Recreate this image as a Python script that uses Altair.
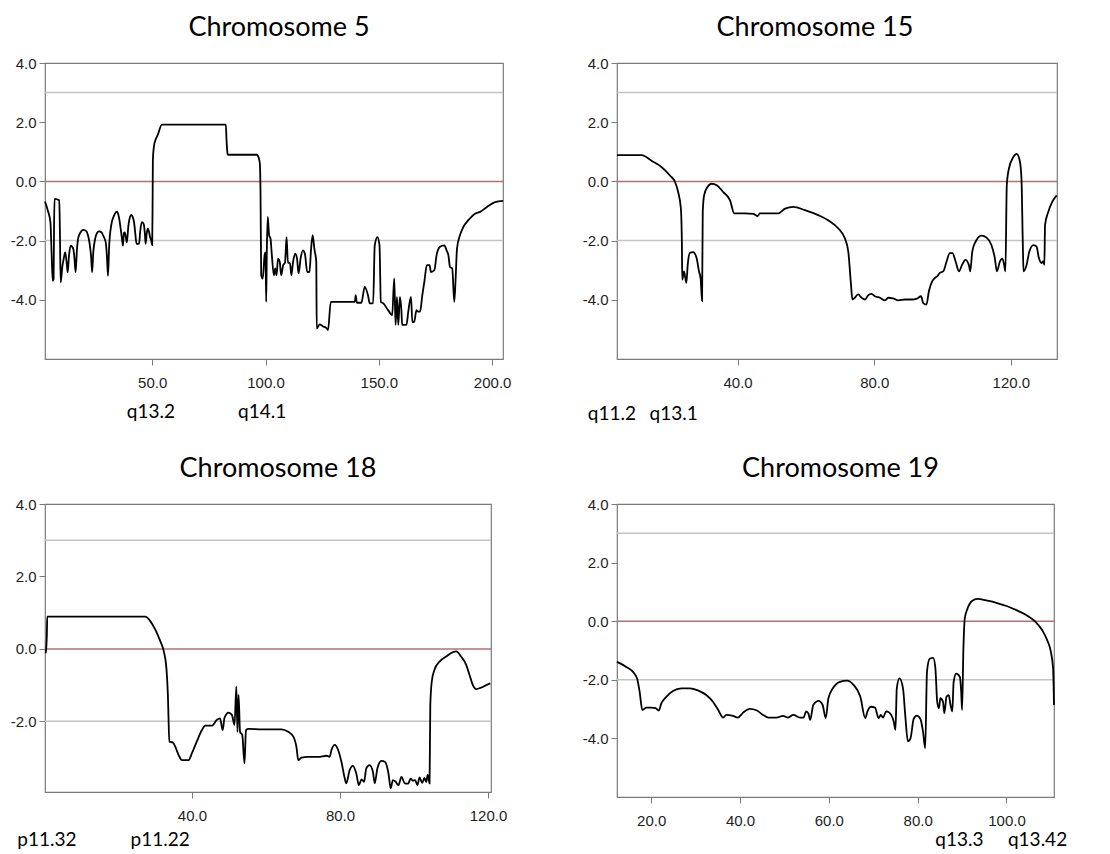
import altair as alt
import pandas as pd

# ---------------- data ----------------
chr5_pos = [2.7, 4.0, 5.1, 5.6, 6.1, 6.5, 6.7, 6.9, 9.0, 9.3, 9.6, 10.4, 11.0, 11.6, 12.2, 12.7, 13.3, 14.0, 14.6, 15.2,
            15.7, 16.2, 16.8, 17.4, 18.4, 19.5, 20.6, 21.6, 22.4, 23.0, 23.5, 24.0, 24.8, 25.6, 26.6, 27.6, 28.5, 29.5,
            30.0, 30.5, 31.0, 31.9, 33.2, 34.5, 35.3, 35.9, 36.6, 37.1, 37.5, 37.9, 38.4, 38.8, 39.5, 40.2, 40.8, 41.4,
            42.0, 42.6, 43.1, 44.2, 44.7, 45.4, 46.0, 46.4, 46.8, 47.1, 47.6, 48.1, 48.6, 49.1, 49.6, 50.0, 50.2, 50.3,
            50.8, 51.4, 52.4, 54.3, 82.5, 82.8, 83.3, 83.5, 96.1, 97.0, 97.5, 97.8, 98.1, 98.8, 99.6, 100.0, 100.3,
            100.6, 101.0, 101.6, 102.2, 102.8, 103.7, 104.3, 104.9, 105.5, 106.3, 106.9, 107.8, 108.6, 109.3, 109.9,
            110.8, 111.4, 112.2, 113.1, 113.9, 114.6, 115.5, 116.5, 117.4, 118.4, 119.4, 120.1, 120.8, 121.6, 122.4,
            122.6, 123.9, 125.4, 126.8, 127.6, 128.8, 139.4, 139.8, 140.3, 142.3, 143.8, 145.2, 146.0, 147.5, 148.2,
            149.4, 150.3, 150.9, 152.0, 154.1, 155.9, 156.8, 157.4, 158.0, 158.6, 159.3, 160.0, 160.3, 162.2, 163.0,
            164.2, 164.8, 165.6, 166.6, 167.3, 168.2, 169.2, 170.1, 171.2, 172.4, 173.0, 174.5, 175.5, 177.0, 178.9,
            180.0, 180.7, 181.4, 182.4, 183.3, 183.9, 184.5, 185.8, 187.3, 189.5, 192.5, 194.7, 197.6, 201.3, 204.8]
chr5_score = [-0.68, -1.0, -1.38, -2.4, -3.36, -3.30, -1.5, -0.59, -0.64, -1.8, -3.41, -2.85, -2.6, -2.40, -2.7, -3.07,
              -2.5, -2.17, -2.2, -2.28, -2.6, -3.07, -2.3, -1.9, -1.72, -1.64, -1.66, -1.8, -2.1, -2.5, -3.07, -2.4,
              -1.95, -1.75, -1.69, -1.72, -1.85, -2.06, -2.5, -3.19, -2.2, -1.49, -1.15, -1.02, -1.2, -1.49, -1.9,
              -2.17, -1.75, -1.72, -1.9, -2.06, -1.5, -1.2, -1.13, -1.2, -1.38, -1.8, -2.11, -2.11, -1.7, -1.38, -1.4,
              -1.49, -1.8, -2.11, -1.75, -1.60, -1.7, -1.89, -2.0, -2.15, -0.5, 0.71, 1.2, 1.39, 1.56, 1.92, 1.92, 1.4,
              0.92, 0.90, 0.90, 0.8, 0.6, -0.36, -3.17, -3.28, -2.49, -2.4, -4.07, -2.27, -1.20, -1.82, -1.93, -2.49,
              -3.17, -2.94, -3.17, -2.61, -2.72, -3.17, -2.83, -2.75, -1.88, -2.75, -2.75, -3.17, -2.7, -2.44, -2.6,
              -3.11, -2.6, -2.33, -2.45, -3.06, -3.06, -2.3, -1.82, -2.3, -2.72, -4.97, -4.83, -4.9, -4.95, -5.02,
              -4.07, -4.07, -3.84, -4.1, -4.1, -3.56, -3.84, -4.12, -4.12, -2.16, -1.88, -2.16, -4.07, -4.12, -4.35,
              -4.52, -3.28, -4.85, -3.9, -4.85, -3.9, -4.4, -4.85, -4.85, -4.4, -3.9, -4.75, -4.75, -4.35, -4.4, -4.4,
              -3.84, -3.39, -2.83, -2.83, -3.06, -3.0, -2.49, -2.21, -2.16, -2.35, -2.49, -2.89, -2.94, -4.07, -3.28,
              -2.27, -1.82, -1.54, -1.31, -1.09, -1.03, -0.87, -0.70, -0.66]

chr15_pos = [4.7, 11.9, 14.8, 17.8, 20.2, 21.7, 22.6, 23.4, 23.7, 23.8, 24.3, 24.6, 25.0, 25.4, 26.0, 27.0, 28.0, 28.7,
             29.2, 29.6, 29.8, 30.2, 31.2, 32.4, 33.9, 35.8, 37.8, 39.0, 42.1, 44.6, 45.9, 46.5, 51.9, 53.9, 56.3,
             59.7, 63.6, 66.5, 69.5, 71.4, 72.4, 73.2, 73.6, 74.3, 75.3, 76.3, 77.3, 78.2, 79.2, 80.2, 81.7, 83.1,
             84.1, 85.5, 87.0, 89.0, 91.0, 92.5, 93.7, 94.3, 95.3, 96.0, 97.0, 97.8, 98.5, 99.2, 100.2, 101.2, 102.1,
             102.9, 103.8, 104.8, 105.7, 106.7, 107.7, 108.1, 108.7, 109.7, 111.4, 112.9, 114.3, 115.3, 115.9, 116.8,
             117.5, 118.0, 118.4, 118.8, 119.4, 120.7, 121.7, 122.6, 123.1, 123.5, 123.7, 124.6, 125.4, 126.6, 127.5,
             128.2, 129.0, 129.4, 129.8, 130.0, 130.8, 132.1, 133.4]
chr15_score = [0.89, 0.89, 0.70, 0.48, 0.20, -0.02, -0.36, -0.92, -2.15, -3.32, -3.04, -3.2, -3.43, -2.82, -2.42, -2.39,
               -2.59, -3.04, -3.3, -4.04, -1.03, -0.47, -0.19, -0.08, -0.13, -0.36, -0.64, -1.08, -1.08, -1.10, -1.17,
               -1.08, -1.08, -0.92, -0.86, -0.97, -1.14, -1.31, -1.59, -1.92, -2.37, -3.49, -3.99, -3.93, -3.82, -3.93,
               -3.99, -3.85, -3.80, -3.88, -3.93, -4.02, -3.93, -3.95, -4.02, -3.99, -3.99, -3.96, -3.88, -4.10, -4.16,
               -3.71, -3.37, -3.26, -3.2, -3.09, -3.04, -2.70, -2.42, -2.42, -2.7, -3.04, -2.82, -2.65, -2.82, -3.04,
               -2.37, -2.03, -1.83, -1.90, -2.15, -2.59, -3.04, -2.70, -2.61, -2.8, -3.04, -0.13, 0.42, 0.82, 0.93,
               0.70, 0.09, -2.15, -3.04, -2.82, -2.37, -2.15, -2.20, -2.59, -2.76, -2.7, -2.82, -1.47, -1.08, -0.69,
               -0.47]

chr18_pos = [0.5, 0.8, 0.9, 27.4, 28.8, 30.1, 31.5, 32.4, 33.1, 33.5, 33.9, 34.8, 35.5, 36.4, 37.3, 39.1, 40.0, 41.3,
             42.7, 43.6, 45.4, 46.7, 47.6, 48.3, 48.8, 49.9, 50.8, 51.5, 52.0, 52.3, 52.6, 53.0, 53.6, 54.2, 54.6,
             55.3, 58.9, 64.2, 66.0, 67.4, 68.3, 68.7, 69.6, 71.4, 74.1, 76.4, 77.2, 77.7, 78.6, 79.5, 80.4, 81.3,
             81.7, 82.6, 83.5, 84.4, 85.1, 85.8, 86.5, 87.1, 88.0, 88.9, 89.4, 90.1, 91.2, 92.2, 93.1, 93.7, 94.3,
             95.0, 95.8, 96.6, 97.5, 98.4, 99.1, 99.7, 100.3, 100.9, 101.5, 102.2, 102.8, 103.3, 103.7, 104.2, 104.4,
             104.8, 105.5, 106.9, 108.7, 110.5, 111.4, 112.7, 114.1, 115.0, 115.9, 116.8, 118.1, 119.5, 120.6]
chr18_score = [-0.12, 0.39, 0.89, 0.89, 0.76, 0.53, 0.20, -0.07, -0.53, -1.27, -2.56, -2.58, -2.70, -2.93, -3.07, -3.07,
               -2.88, -2.56, -2.24, -2.12, -2.12, -1.96, -1.92, -2.24, -1.9, -1.76, -1.82, -2.10, -1.04, -2.29, -1.27,
               -2.29, -2.38, -3.16, -2.24, -2.21, -2.22, -2.22, -2.29, -2.42, -2.75, -3.07, -3.00, -2.98, -2.98, -2.95,
               -2.98, -2.79, -2.65, -2.79, -3.12, -3.58, -3.71, -3.35, -3.23, -3.44, -3.76, -3.60, -3.67, -3.30, -3.21,
               -3.40, -3.71, -3.30, -3.09, -3.12, -3.44, -3.85, -3.62, -3.66, -3.76, -3.53, -3.71, -3.72, -3.58, -3.64,
               -3.62, -3.76, -3.55, -3.70, -3.56, -3.67, -3.48, -3.71, -1.55, -0.90, -0.58, -0.35, -0.21, -0.09, -0.07,
               -0.21, -0.44, -0.72, -1.00, -1.11, -1.07, -1.00, -0.95]

chr19_pos = [12.3, 14.4, 15.9, 16.8, 17.4, 18.0, 18.9, 20.0, 21.0, 21.7, 22.3, 23.4, 24.9, 26.8, 28.7, 30.5, 32.4, 33.9,
             35.1, 36.2, 36.9, 38.4, 39.5, 40.7, 42.2, 43.7, 45.2, 46.4, 48.2, 49.7, 50.8, 52.0, 53.5, 54.3, 54.9,
             55.4, 55.8, 56.5, 57.7, 58.6, 59.3, 59.9, 60.9, 62.5, 64.1, 65.6, 67.1, 68.2, 68.7, 69.5, 70.4, 71.2,
             71.7, 72.2, 72.9, 73.6, 74.6, 75.0, 75.3, 75.9, 76.7, 77.2, 77.8, 78.4, 79.1, 79.8, 80.6, 81.2, 81.7,
             82.1, 82.7, 83.5, 84.0, 84.4, 84.8, 85.1, 85.7, 86.0, 86.5, 87.0, 87.4, 87.8, 88.1, 88.7, 89.5, 89.8,
             90.0, 90.3, 90.6, 91.2, 92.3, 93.4, 95.7, 97.9, 100.2, 102.5, 104.7, 106.6, 108.1, 109.2, 110.0, 110.5,
             110.7]
chr19_score = [-1.39, -1.56, -1.73, -1.95, -2.41, -3.03, -2.95, -2.95, -2.97, -3.05, -2.80, -2.58, -2.38, -2.29, -2.29,
               -2.36, -2.52, -2.75, -3.03, -3.29, -3.20, -3.23, -3.29, -3.12, -2.99, -3.04, -3.20, -3.29, -3.29, -3.23,
               -3.29, -3.20, -3.29, -3.29, -3.08, -3.15, -3.37, -2.86, -2.72, -2.86, -3.31, -2.63, -2.29, -2.07, -2.03,
               -2.18, -2.58, -3.31, -3.08, -2.92, -2.95, -3.31, -3.20, -3.29, -3.08, -3.12, -3.42, -3.71, -2.29, -1.95,
               -2.29, -3.20, -4.10, -3.99, -3.33, -3.22, -3.33, -3.76, -4.33, -1.73, -1.28, -1.25, -1.62, -2.75, -2.97,
               -2.63, -2.75, -3.14, -2.58, -2.52, -2.86, -3.08, -2.07, -1.79, -1.90, -2.41, -3.03, -0.94, 0.08, 0.42,
               0.70, 0.76, 0.70, 0.62, 0.51, 0.36, 0.19, -0.03, -0.32, -0.66, -1.05, -1.62, -2.86]

# band labels under each panel
chr5_band_pos = [49.4, 98.5]
chr5_band_lab = ["q13.2", "q14.1"]
chr15_band_pos = [3.2, 21.3]
chr15_band_lab = ["q11.2", "q13.1"]
chr18_band_pos = [0.8, 31.4]
chr18_band_lab = ["p11.32", "p11.22"]
chr19_band_pos = [89.4, 107.0]
chr19_band_lab = ["q13.3", "q13.42"]

ref_levels = [3, 0, -2]
ref_kinds = ["limit", "zero", "limit"]

AXIS_STYLE = dict(title=None, domain=False, grid=False, labelFont="Liberation Sans", labelFontSize=15,
                  labelColor="#1e1e1e", tickColor="#7a7a7a", tickSize=6)


def panel(title, xs, ys, xdom, xticks, ydom, yticks, width, height, bpos, blab, band_dy, title_dx):
    df = pd.DataFrame({"pos": xs, "score": ys})
    xscale = alt.Scale(domain=xdom, nice=False, zero=False)
    yscale = alt.Scale(domain=ydom, nice=False, zero=False)
    yaxis = alt.Axis(values=yticks, labelPadding=3,
                     labelExpr="(datum.value < 0 ? '-' : '') + format(abs(datum.value), '.1f')", **AXIS_STYLE)
    xaxis = alt.Axis(values=xticks, format=".1f", labelPadding=10, **AXIS_STYLE)

    rules = alt.Chart(pd.DataFrame({"score": ref_levels, "kind": ref_kinds})).mark_rule(strokeWidth=1.5).encode(
        y=alt.Y("score:Q", scale=yscale, axis=yaxis),
        color=alt.Color("kind:N", scale=alt.Scale(domain=["limit", "zero"], range=["#c4c4c4", "#b07272"]),
                        legend=None),
    )
    line = alt.Chart(df).mark_line(color="black", strokeWidth=1.8, interpolate="monotone").encode(
        x=alt.X("pos:Q", scale=xscale, axis=xaxis),
        y=alt.Y("score:Q", scale=yscale, axis=yaxis),
    )
    bands = alt.Chart(pd.DataFrame({"pos": bpos, "label": blab})).mark_text(
        font="Lato", fontSize=19, baseline="alphabetic", align="center", color="black"
    ).encode(
        x=alt.X("pos:Q", scale=xscale, axis=xaxis),
        y=alt.value(height + band_dy),
        text="label:N",
    )
    return alt.layer(rules, line, bands).properties(
        width=width, height=height,
        title=alt.TitleParams(title, font="Lato", fontSize=27, fontWeight="normal", color="black",
                              offset=-13, baseline="bottom", anchor="middle", dx=title_dx),
    )


p5 = panel("Chromosome 5", chr5_pos, chr5_score, [2.7, 204.8], [50, 100, 150, 200], [-6, 4],
           [4, 2, 0, -2, -4], 458, 296, chr5_band_pos, chr5_band_lab, 59, 5)
p15 = panel("Chromosome 15", chr15_pos, chr15_score, [4.7, 133.5], [40, 80, 120], [-6, 4],
            [4, 2, 0, -2, -4], 440, 296, chr15_band_pos, chr15_band_lab, 61, -22)
p18 = panel("Chromosome 18", chr18_pos, chr18_score, [0.3, 120.8], [40, 80, 120], [-3.95, 4],
            [4, 2, 0, -2], 446, 288, chr18_band_pos, chr18_band_lab, 54, 10)
p19 = panel("Chromosome 19", chr19_pos, chr19_score, [12.3, 110.7], [20, 40, 60, 80, 100], [-6, 4],
            [4, 2, 0, -2, -4], 437, 293, chr19_band_pos, chr19_band_lab, 49, 5)

chart = alt.concat(p5, p15, p18, p19, columns=2, spacing={"row": 145, "column": 114}, bounds="flush").configure_view(
    stroke="#7a7a7a", strokeWidth=1.2
).properties(background="white", padding={"left": 1, "top": 5, "right": 5, "bottom": 5})

chart.save("out.html", embed_options={"renderer": "svg", "actions": False})
